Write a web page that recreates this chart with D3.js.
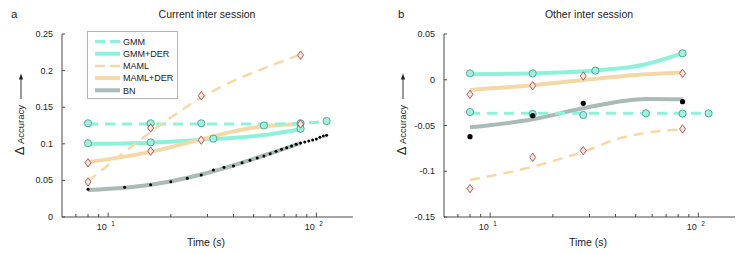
<!DOCTYPE html>
<html><head><meta charset="utf-8">
<script src="https://cdn.jsdelivr.net/npm/d3@7"></script>
<style>
body{margin:0;background:#fff;}
text{font-family:"Liberation Sans",Arial,sans-serif;fill:#222;}
</style></head>
<body><svg id="c" width="753" height="254"></svg>
<script>
// ---------- data ----------
const seriesNames = ["GMM","GMM+DER","MAML","MAML+DER","BN"];
const yTicksA = [0,0.05,0.1,0.15,0.2,0.25];
const yTickLabelsA = ["0","0.05","0.1","0.15","0.2","0.25"];
const yTicksB = [-0.15,-0.1,-0.05,0,0.05];
const yTickLabelsB = ["-0.15","-0.1","-0.05","0","0.05"];
const xMajorTicks = [10,100];
const xMajorExp = ["1","2"];

// Panel a : Current inter session
const gmmA_t = [8,16,28,56,84,112], gmmA_v = [0.128,0.128,0.128,0.125,0.128,0.131];
const gmmA_fitT = [8,16,28,56,84,112], gmmA_fitV = [0.127,0.127,0.127,0.127,0.128,0.131];
const gmmDerA_t = [8,16,32,84], gmmDerA_v = [0.1007,0.102,0.107,0.1206];
const gmmDerA_fitT = [8,16,28,56,84], gmmDerA_fitV = [0.100,0.1016,0.1055,0.112,0.120];
const mamlA_t = [8,16,28,84], mamlA_v = [0.048,0.1216,0.1657,0.221];
const mamlA_fitT = [8,10,12,16,20,28,40,56,84], mamlA_fitV = [0.049,0.071,0.089,0.116,0.136,0.163,0.186,0.203,0.222];
const mamlDerA_t = [8,16,28,84], mamlDerA_v = [0.074,0.090,0.105,0.127];
const mamlDerA_fitT = [8,16,28,40,56,84], mamlDerA_fitV = [0.075,0.089,0.106,0.117,0.124,0.127];
const bnA_t = [8,12,16,20,24,28,32,36,40,44,48,52,56,60,64,68,72,76,80,84,88,92,96,100,104,108,112];
const bnA_v = [0.0378,0.0406,0.0441,0.0482,0.0529,0.0574,0.0642,0.0679,0.0697,0.0742,0.0775,0.0806,0.0833,0.0865,0.0898,0.0925,0.0947,0.0970,0.0993,0.1011,0.1025,0.1038,0.1052,0.1066,0.1089,0.1107,0.1116];
const bnA_fitT = [8,12,16,28,56,84], bnA_fitV = [0.037,0.040,0.044,0.058,0.084,0.101];

// Panel b : Other inter session
const gmmB_t = [8,16,28,56,84,112], gmmB_v = [-0.0353,-0.0374,-0.0385,-0.0367,-0.037,-0.0367];
const gmmB_fitT = [8,28,84,112], gmmB_fitV = [-0.0366,-0.0366,-0.0366,-0.0366];
const gmmDerB_t = [8,16,32,84], gmmDerB_v = [0.007,0.007,0.0099,0.0289];
const gmmDerB_fitT = [8,16,32,56,84], gmmDerB_fitV = [0.006,0.007,0.010,0.017,0.029];
const mamlB_t = [8,16,28,84], mamlB_v = [-0.119,-0.0848,-0.0775,-0.0538];
const mamlB_fitT = [8,16,28,42,56,84], mamlB_fitV = [-0.1096,-0.095,-0.0786,-0.064,-0.058,-0.0542];
const mamlDerB_t = [8,16,28,84], mamlDerB_v = [-0.0159,-0.0065,0.0041,0.007];
const mamlDerB_fitT = [8,16,28,56,84], mamlDerB_fitV = [-0.0112,-0.006,-0.0003,0.006,0.008];
const bnB_t = [8,16,28,84], bnB_v = [-0.0622,-0.0393,-0.0258,-0.024];
const bnB_fitT = [8,16,28,56,84], bnB_fitV = [-0.052,-0.0432,-0.0312,-0.021,-0.0214];

// ---------- styles ----------
const C = {cyan:"#8ef2d9", tan:"#f4d9a6", gray:"#a9bab7", circFill:"#a6efdf", circStroke:"#3fa58e",
           diaFill:"#f6e4d4", diaStroke:"#9e5258", axis:"#4a4a4a"};
const svg = d3.select("#c");
const zip = (a,b)=>a.map((d,i)=>[d,b[i]]);

function panel(opt){
  const g = svg.append("g").attr("transform",`translate(${opt.dx},0)`);
  const x = d3.scaleLog().domain([6,150]).range([62,353]);
  const y = d3.scaleLinear().domain(opt.yDomain).range([217,34]);
  const line = d3.line().x(d=>x(d[0])).y(d=>y(d[1])).curve(d3.curveMonotoneX);

  // axes
  g.append("line").attr("x1",62).attr("x2",62).attr("y1",34).attr("y2",217).attr("stroke",C.axis).attr("stroke-width",1);
  g.append("line").attr("x1",62).attr("x2",353).attr("y1",217).attr("y2",217).attr("stroke",C.axis).attr("stroke-width",1);
  // y ticks
  opt.yTicks.forEach((v,i)=>{
    g.append("line").attr("x1",62).attr("x2",65).attr("y1",y(v)).attr("y2",y(v)).attr("stroke",C.axis);
    g.append("text").attr("x",53).attr("y",y(v)+3).attr("text-anchor","end").attr("font-size",9).text(opt.yLabels[i]);
  });
  // x ticks (log minor + major)
  const minors = x.ticks().filter(t=>t>6 && t<150);
  minors.forEach(t=>{
    const major = xMajorTicks.includes(t);
    g.append("line").attr("x1",x(t)).attr("x2",x(t)).attr("y1",217).attr("y2",major?212.5:214)
      .attr("stroke",C.axis);
  });
  xMajorTicks.forEach((t,i)=>{
    g.append("text").attr("x",x(t)-1.5).attr("y",230).attr("text-anchor","end").attr("font-size",9).text("10");
    g.append("text").attr("x",x(t)+3).attr("y",225.5).attr("text-anchor","start").attr("font-size",6.5).text(xMajorExp[i]);
  });
  g.append("text").attr("x",206).attr("y",246).attr("text-anchor","middle").attr("font-size",10.5).text("Time (s)");
  g.append("text").attr("x",207).attr("y",18).attr("text-anchor","middle").attr("font-size",10.5).text(opt.title);
  g.append("text").attr("x",opt.letterX).attr("y",18).attr("font-size",11.5).text(opt.letter);
  // y label
  const yl = g.append("text").attr("transform","translate(24,155) rotate(-90)").attr("font-size",9.5);
  yl.append("tspan").attr("font-size",12.5).text("Δ");
  yl.append("tspan").text(" Accuracy");
  g.append("line").attr("x1",21).attr("x2",21).attr("y1",99).attr("y2",78).attr("stroke","#222").attr("stroke-width",0.9);
  g.append("path").attr("d","M21,73.5 L18.9,79.5 L23.1,79.5 Z").attr("fill","#222");

  // fitted lines
  const d = opt.data;
  g.append("path").datum(zip(d.gmmDerT,d.gmmDerV)).attr("d",line).attr("fill","none").attr("stroke",C.cyan).attr("stroke-width",4);
  g.append("path").datum(zip(d.mamlDerT,d.mamlDerV)).attr("d",line).attr("fill","none").attr("stroke",C.tan).attr("stroke-width",4);
  g.append("path").datum(zip(d.bnT,d.bnV)).attr("d",line).attr("fill","none").attr("stroke",C.gray).attr("stroke-width",4);
  g.append("path").datum(zip(d.gmmT,d.gmmV)).attr("d",line).attr("fill","none").attr("stroke",C.cyan).attr("stroke-width",3).attr("stroke-dasharray","10,7");
  g.append("path").datum(zip(d.mamlT,d.mamlV)).attr("d",line).attr("fill","none").attr("stroke",C.tan).attr("stroke-width",2.5).attr("stroke-dasharray","10,7");

  // markers
  const circ = (pts)=>g.append("g").selectAll("circle").data(pts).join("circle")
      .attr("cx",p=>x(p[0])).attr("cy",p=>y(p[1])).attr("r",3.6)
      .attr("fill",C.circFill).attr("stroke",C.circStroke).attr("stroke-width",0.9);
  const dia = (pts)=>g.append("g").selectAll("path").data(pts).join("path")
      .attr("d",p=>{const cx=x(p[0]),cy=y(p[1]);return `M${cx},${cy-4.2}L${cx+3},${cy}L${cx},${cy+4.2}L${cx-3},${cy}Z`;})
      .attr("fill",C.diaFill).attr("stroke",C.diaStroke).attr("stroke-width",0.9);
  circ(zip(d.gmmPt,d.gmmPv));
  circ(zip(d.gmmDerPt,d.gmmDerPv));
  dia(zip(d.mamlPt,d.mamlPv));
  dia(zip(d.mamlDerPt,d.mamlDerPv));
  g.append("g").selectAll("circle").data(zip(d.bnPt,d.bnPv)).join("circle")
    .attr("cx",p=>x(p[0])).attr("cy",p=>y(p[1])).attr("r",opt.dotR).attr("fill","#000");
  return g;
}

const gA = panel({dx:0, yDomain:[0,0.25], yTicks:yTicksA, yLabels:yTickLabelsA, title:"Current inter session",
  letter:"a", letterX:11, dotR:1.5,
  data:{gmmT:gmmA_fitT,gmmV:gmmA_fitV,gmmDerT:gmmDerA_fitT,gmmDerV:gmmDerA_fitV,mamlT:mamlA_fitT,mamlV:mamlA_fitV,
        mamlDerT:mamlDerA_fitT,mamlDerV:mamlDerA_fitV,bnT:bnA_fitT,bnV:bnA_fitV,
        gmmPt:gmmA_t,gmmPv:gmmA_v,gmmDerPt:gmmDerA_t,gmmDerPv:gmmDerA_v,mamlPt:mamlA_t,mamlPv:mamlA_v,
        mamlDerPt:mamlDerA_t,mamlDerPv:mamlDerA_v,bnPt:bnA_t,bnPv:bnA_v}});
panel({dx:382, yDomain:[-0.15,0.05], yTicks:yTicksB, yLabels:yTickLabelsB, title:"Other inter session",
  letter:"b", letterX:16, dotR:2.6,
  data:{gmmT:gmmB_fitT,gmmV:gmmB_fitV,gmmDerT:gmmDerB_fitT,gmmDerV:gmmDerB_fitV,mamlT:mamlB_fitT,mamlV:mamlB_fitV,
        mamlDerT:mamlDerB_fitT,mamlDerV:mamlDerB_fitV,bnT:bnB_fitT,bnV:bnB_fitV,
        gmmPt:gmmB_t,gmmPv:gmmB_v,gmmDerPt:gmmDerB_t,gmmDerPv:gmmDerB_v,mamlPt:mamlB_t,mamlPv:mamlB_v,
        mamlDerPt:mamlDerB_t,mamlDerPv:mamlDerB_v,bnPt:bnB_t,bnPv:bnB_v}});

// legend (panel a)
const leg = gA.append("g");
leg.append("rect").attr("x",87.5).attr("y",31.5).attr("width",90).attr("height",67).attr("fill","#fff").attr("stroke","#b5b5b5").attr("stroke-width",1);
const legStyle = [
  {c:C.cyan,w:3,dash:"10,7"},{c:C.cyan,w:4,dash:null},{c:C.tan,w:2.5,dash:"10,7"},{c:C.tan,w:4,dash:null},{c:C.gray,w:4,dash:null}];
seriesNames.forEach((n,i)=>{
  const yy = 41.5 + i*12.2;
  const ln = leg.append("line").attr("x1",95).attr("x2",120).attr("y1",yy).attr("y2",yy).attr("stroke",legStyle[i].c).attr("stroke-width",legStyle[i].w);
  if(legStyle[i].dash) ln.attr("stroke-dasharray","10,5");
  leg.append("text").attr("x",123).attr("y",yy+3.2).attr("font-size",9).text(n);
});
</script></body></html>
